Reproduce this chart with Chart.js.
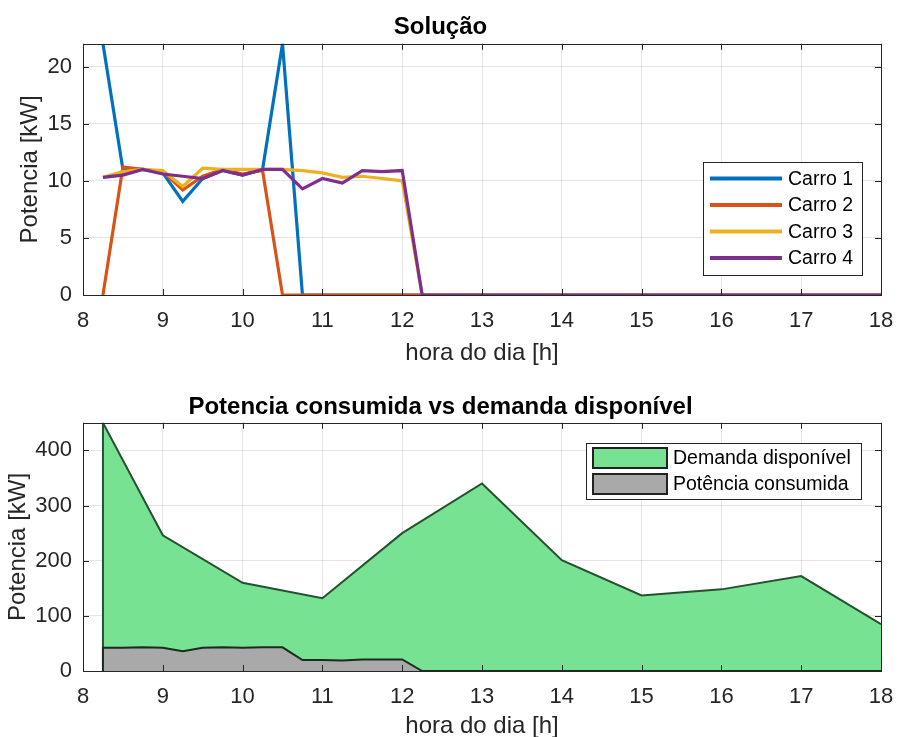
<!DOCTYPE html>
<html>
<head>
<meta charset="utf-8">
<script src="https://cdn.jsdelivr.net/npm/chart.js@4.4.1/dist/chart.umd.min.js"></script>
<style>
  body { margin: 0; background: #fff; }
  canvas { position: absolute; left: 0; }
</style>
</head>
<body>
<canvas id="solucao" width="898" height="370" style="top:0"></canvas>
<canvas id="potencia" width="898" height="367" style="top:370px"></canvas>
<script>
// ---- data ----
const hoursCars = [8.25, 8.5, 8.75, 9, 9.25, 9.5, 9.75, 10, 10.25, 10.5, 10.75, 11, 11.25, 11.5, 11.75, 12, 12.25, 18];
const carro1 = [22, 11, 11, 10.7, 8.2, 10.2, 10.9, 10.5, 11, 22, 0, 0, 0, 0, 0, 0, 0, 0];
const carro2 = [0, 11.2, 11, 10.8, 9.2, 10.4, 11, 10.6, 10.9, 0, 0, 0, 0, 0, 0, 0, 0, 0];
const carro3 = [10.3, 10.8, 11, 10.9, 9.5, 11.1, 11, 11, 11, 11, 10.9, 10.7, 10.3, 10.4, 10.2, 10.0, 0, 0];
const carro4 = [10.3, 10.5, 11, 10.6, 10.4, 10.2, 10.9, 10.5, 11, 11, 9.3, 10.2, 9.8, 10.9, 10.8, 10.9, 0, 0];

const hoursDemand = [8.25, 8.25, 9, 10, 11, 12, 13, 14, 15, 16, 17, 18];
const demanda = [0, 450, 246, 160, 132, 250, 340, 201, 137, 148, 172, 85];

const hoursConsumed = [8.25, 8.25, 8.5, 8.75, 9, 9.25, 9.5, 9.75, 10, 10.25, 10.5, 10.75, 11, 11.25, 11.5, 11.75, 12, 12.25, 18];
const consumida = [0, 42, 42, 43, 42, 36, 42, 43, 42, 43, 43, 20, 20, 19, 21, 21, 21, 0, 0];

const xTicks = [8, 9, 10, 11, 12, 13, 14, 15, 16, 17, 18];
const yTicksTop = [0, 5, 10, 15, 20];
const yTicksBottom = [0, 100, 200, 300, 400];

const FONT = '"Liberation Sans", Arial, Helvetica, sans-serif';
Chart.defaults.font.family = FONT;
Chart.defaults.color = '#262626';

const pts = (xs, ys) => xs.map((x, i) => ({ x: x, y: ys[i] }));
const setTicks = arr => scale => { scale.ticks = arr.map(v => ({ value: v })); };

// matlab style box + inward tick marks
const matlabBox = {
  id: 'matlabBox',
  afterDatasetsDraw(chart) {
    const { ctx, chartArea: a, scales } = chart;
    ctx.save();
    ctx.strokeStyle = '#262626';
    ctx.lineWidth = 1;
    ctx.beginPath();
    scales.x.ticks.forEach(t => {
      const px = Math.round(scales.x.getPixelForValue(t.value)) + 0.5;
      ctx.moveTo(px, a.bottom); ctx.lineTo(px, a.bottom - 6);
      ctx.moveTo(px, a.top); ctx.lineTo(px, a.top + 6);
    });
    scales.y.ticks.forEach(t => {
      const py = Math.round(scales.y.getPixelForValue(t.value)) + 0.5;
      ctx.moveTo(a.left, py); ctx.lineTo(a.left + 6, py);
      ctx.moveTo(a.right, py); ctx.lineTo(a.right - 6, py);
    });
    ctx.stroke();
    ctx.strokeRect(Math.round(a.left) + 0.5, Math.round(a.top) + 0.5,
      Math.round(a.right - a.left), Math.round(a.bottom - a.top));
    ctx.restore();
  }
};

// legend box drawn inside the plot, like the original
const boxLegend = {
  id: 'boxLegend',
  afterDraw(chart, args, o) {
    const ctx = chart.ctx;
    ctx.save();
    ctx.fillStyle = '#fff';
    ctx.fillRect(o.x, o.y, o.w, o.h);
    ctx.strokeStyle = '#262626';
    ctx.lineWidth = 1;
    ctx.strokeRect(o.x + 0.5, o.y + 0.5, o.w, o.h);
    ctx.font = '19.5px ' + FONT;
    ctx.textBaseline = 'middle';
    chart.data.datasets.forEach((ds, i) => {
      const cy = o.y + o.first + i * o.step;
      if (o.kind === 'line') {
        ctx.strokeStyle = ds.borderColor;
        ctx.lineWidth = 4;
        ctx.beginPath();
        ctx.moveTo(o.x + o.s0, cy); ctx.lineTo(o.x + o.s1, cy);
        ctx.stroke();
      } else {
        ctx.fillStyle = ds.backgroundColor;
        ctx.fillRect(o.x + o.s0, cy - 10, o.s1 - o.s0, 20);
        ctx.strokeStyle = '#222';
        ctx.lineWidth = 2;
        ctx.strokeRect(o.x + o.s0, cy - 10, o.s1 - o.s0, 20);
      }
      ctx.fillStyle = '#000';
      ctx.fillText(ds.label, o.x + o.tx, cy + 1);
    });
    ctx.restore();
  }
};

function axes(yMax, yTicks, xHeight, tickPad, yTitlePad, xTitleLH) {
  return {
    x: {
      type: 'linear', min: 8, max: 18,
      afterBuildTicks: setTicks(xTicks),
      afterFit: s => { s.height = xHeight; s.paddingLeft = 0; s.paddingRight = 0; },
      grid: { color: 'rgba(0,0,0,0.1)', drawTicks: false },
      border: { display: false },
      ticks: { padding: tickPad, font: { size: 22 }, color: '#262626', maxRotation: 0 },
      title: { display: true, text: 'hora do dia [h]', font: { size: 24, lineHeight: xTitleLH }, color: '#262626', padding: { top: 0, bottom: 0 } }
    },
    y: {
      min: 0, max: yMax,
      afterBuildTicks: setTicks(yTicks),
      afterFit: s => { s.width = 83; s.paddingTop = 0; s.paddingBottom = 0; },
      grid: { color: 'rgba(0,0,0,0.1)', drawTicks: false },
      border: { display: false },
      ticks: { padding: 11, font: { size: 22 }, color: '#262626' },
      title: { display: true, text: 'Potencia [kW]', font: { size: 24 }, color: '#262626', padding: { top: yTitlePad, bottom: 0 } }
    }
  };
}

function line(label, xs, ys, color, order) {
  return { label: label, data: pts(xs, ys), borderColor: color, backgroundColor: color,
    borderWidth: 3.2, pointRadius: 0, tension: 0, order: order };
}

new Chart(document.getElementById('solucao'), {
  type: 'line',
  data: {
    datasets: [
      line('Carro 1', hoursCars, carro1, '#0072BD', 4),
      line('Carro 2', hoursCars, carro2, '#D95319', 3),
      line('Carro 3', hoursCars, carro3, '#EDB120', 2),
      line('Carro 4', hoursCars, carro4, '#7E2F8E', 1)
    ]
  },
  options: {
    responsive: false, animation: false, devicePixelRatio: 1,
    layout: { padding: { left: 0, right: 17, top: 0, bottom: 0 } },
    scales: axes(22, yTicksTop, 75, 13, 16, 1.4),
    plugins: {
      legend: { display: false },
      tooltip: { enabled: false },
      title: { display: true, text: 'Solução', color: '#000', font: { size: 24, weight: 'bold' }, padding: { top: 13, bottom: 2 } },
      boxLegend: { kind: 'line', x: 703, y: 162, w: 159, h: 113, first: 16.5, step: 26.5, s0: 7, s1: 79, tx: 85 }
    }
  },
  plugins: [matlabBox, boxLegend]
});

new Chart(document.getElementById('potencia'), {
  type: 'line',
  data: {
    datasets: [
      { label: 'Demanda disponível', data: pts(hoursDemand, demanda), borderColor: '#24512f',
        backgroundColor: '#78e293', borderWidth: 2, pointRadius: 0, tension: 0, fill: 'origin', order: 2 },
      { label: 'Potência consumida', data: pts(hoursConsumed, consumida), borderColor: '#1c2a1f',
        backgroundColor: '#a9a9a9', borderWidth: 2, pointRadius: 0, tension: 0, fill: 'origin', order: 1 }
    ]
  },
  options: {
    responsive: false, animation: false, devicePixelRatio: 1,
    layout: { padding: { left: 0, right: 17, top: 0, bottom: 0 } },
    scales: axes(450, yTicksBottom, 66, 13, 4, 0.9),
    plugins: {
      legend: { display: false },
      tooltip: { enabled: false },
      title: { display: true, text: 'Potencia consumida vs demanda disponível', color: '#000', font: { size: 24, weight: 'bold' }, padding: { top: 23, bottom: 1 } },
      boxLegend: { kind: 'patch', x: 586, y: 73, w: 275, h: 56, first: 15, step: 26, s0: 7, s1: 81, tx: 87 }
    }
  },
  plugins: [matlabBox, boxLegend]
});
</script>
</body>
</html>
